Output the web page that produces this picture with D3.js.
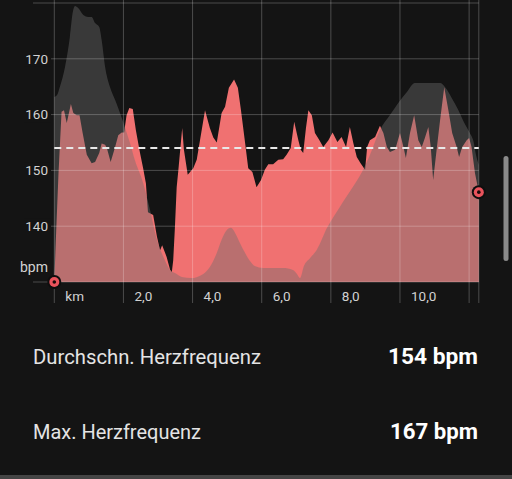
<!DOCTYPE html>
<html>
<head>
<meta charset="utf-8">
<script src="https://cdn.jsdelivr.net/npm/d3@7"></script>
<style>
  html, body { margin: 0; padding: 0; background: #141414; }
  svg { display: block; }
</style>
</head>
<body>
<svg id="chart" width="512" height="479"></svg>
<script>
// ---------------- DATA ----------------
// Heart rate profile (distance in km, heart rate in bpm)
const hrKm = [0.00,0.05,0.12,0.21,0.28,0.36,0.48,0.55,0.65,0.73,0.82,0.94,1.08,1.18,1.30,1.37,1.47,1.52,1.63,1.76,1.85,1.95,2.02,2.09,2.17,2.27,2.36,2.48,2.57,2.65,2.71,2.86,2.97,3.06,3.12,3.25,3.35,3.40,3.44,3.49,3.54,3.59,3.70,3.75,3.86,4.02,4.12,4.36,4.50,4.60,4.70,4.84,4.94,5.05,5.20,5.31,5.40,5.52,5.61,5.73,5.85,5.98,6.09,6.19,6.33,6.48,6.62,6.72,6.84,6.94,7.06,7.13,7.20,7.28,7.35,7.45,7.54,7.67,7.78,7.93,8.05,8.19,8.31,8.44,8.55,8.65,8.75,8.86,8.99,9.05,9.13,9.28,9.42,9.52,9.62,9.71,9.86,10.00,10.10,10.17,10.29,10.41,10.53,10.63,10.72,10.82,10.89,10.96,11.06,11.16,11.28,11.40,11.51,11.64,11.71,11.80,11.93,12.00,12.07,12.17,12.28];
const hrBpm = [130.0,138.4,149.2,160.5,160.8,158.5,161.9,160.3,159.9,159.9,156.7,152.8,151.3,151.5,153.1,154.8,154.6,154.0,151.5,154.2,156.3,156.8,156.8,159.9,161.2,161.0,157.2,153.1,150.4,147.7,142.5,142.0,138.1,135.7,136.6,134.5,132.2,131.8,133.9,139.9,147.0,150.1,157.6,153.7,149.2,150.4,151.9,160.8,157.6,155.9,155.0,160.3,161.4,164.8,166.3,164.8,160.8,154.9,150.4,149.7,147.0,148.3,150.1,151.1,151.1,151.9,152.0,152.8,154.0,158.7,155.4,153.7,153.1,157.6,160.8,159.9,156.7,155.4,154.2,155.4,156.8,155.1,156.0,154.2,157.8,154.9,152.4,151.3,150.1,154.2,155.4,156.0,158.0,156.7,154.2,153.3,153.7,156.7,154.2,152.2,156.7,159.9,155.4,154.2,155.8,157.8,154.2,148.3,153.7,159.0,164.9,160.8,156.7,154.2,152.4,154.2,155.4,155.8,154.2,149.5,146.1];

// Elevation profile (distance in km, relative elevation 0..100)
const elevKm = [0.00,0.08,0.16,0.31,0.45,0.53,0.60,0.69,0.84,0.98,1.08,1.18,1.30,1.37,1.47,1.61,1.76,1.90,2.04,2.19,2.33,2.57,2.77,2.97,3.17,3.35,3.49,3.69,3.97,4.26,4.50,4.70,4.84,4.99,5.11,5.23,5.37,5.52,5.66,5.80,6.04,6.24,6.62,6.90,7.02,7.11,7.22,7.40,7.59,7.89,8.26,8.64,8.90,9.13,9.42,9.71,9.95,10.20,10.43,11.16,11.30,11.50,11.69,11.85,12.02,12.13,12.20,12.28];
const elevVal = [66.3,67.0,69.9,77.1,87.8,96.4,98.9,98.2,95.7,95.0,95.0,92.8,91.4,86.7,77.1,69.9,65.2,60.6,55.6,49.8,43.7,35.5,25.8,15.1,8.6,4.3,3.2,1.8,1.4,2.5,5.4,10.4,15.1,18.6,19.4,17.6,14.0,10.4,7.5,5.7,5.0,5.0,5.0,4.3,2.9,1.4,5.7,8.6,11.5,19.4,26.9,34.1,39.4,45.5,54.5,59.9,64.2,68.1,71.3,71.3,69.9,65.9,61.6,57.3,53.4,50.2,45.5,41.9];

const totalKm = 12.28;
const avgBpm = 154;
const maxBpm = 167;

const yGrid = [130, 140, 150, 160, 170, 180];
const yTickValues = [140, 150, 160, 170];
const yTickLabels = ["140", "150", "160", "170"];
const yUnitLabel = "bpm";

const xTickValues = [0, 2, 4, 6, 8, 10, 12];
const xTickLabels = ["km", "2,0", "4,0", "6,0", "8,0", "10,0", ""];

const statLabels = ["Durchschn. Herzfrequenz", "Max. Herzfrequenz"];
const statValues = [avgBpm + " bpm", maxBpm + " bpm"];

// ---------------- DRAW ----------------
const svg = d3.select("#chart");
const W = 512, H = 479;
const FONT = "Roboto, Inter, 'Noto Sans', sans-serif";
const C = {
  bg: "#141414",
  hr: "#f07171",
  elev: "rgb(110,110,110)",
  grid: "rgba(255,255,255,0.24)",
  text: "#d2d2d2",
  marker: "#e9535c"
};

svg.append("rect").attr("width", W).attr("height", H).attr("fill", C.bg);

const x = d3.scaleLinear().domain([0, totalKm]).range([54.3, 478.8]);
const y = d3.scaleLinear().domain([130, 180]).range([282, 3]);
const yElev = d3.scaleLinear().domain([0, 100]).range([282, 3]);

const hrData = hrKm.map((k, i) => ({ km: k, v: hrBpm[i] }));
const elevData = elevKm.map((k, i) => ({ km: k, v: elevVal[i] }));

// Heart-rate area
svg.append("path")
  .datum(hrData)
  .attr("fill", C.hr)
  .attr("d", d3.area().x(d => x(d.km)).y0(y(130)).y1(d => y(d.v)).curve(d3.curveLinear));

// Elevation area (translucent, on top)
svg.append("path")
  .datum(elevData)
  .attr("fill", C.elev)
  .attr("fill-opacity", 0.42)
  .attr("d", d3.area().x(d => x(d.km)).y0(yElev(0)).y1(d => yElev(d.v)).curve(d3.curveMonotoneX));

// Horizontal grid
const gGrid = svg.append("g");
gGrid.selectAll("line.h").data(yGrid).join("line")
  .attr("x1", 33).attr("x2", x(totalKm))
  .attr("y1", d => y(d)).attr("y2", d => y(d))
  .attr("stroke", C.grid).attr("stroke-width", 1);

// Vertical grid
gGrid.selectAll("line.v").data(xTickValues.concat([totalKm])).join("line")
  .attr("x1", d => x(d)).attr("x2", d => x(d))
  .attr("y1", 0).attr("y2", 303)
  .attr("stroke", C.grid).attr("stroke-width", 1);

// Y tick labels with background
const yl = svg.append("g");
yTickValues.forEach((v, i) => {
  yl.append("rect").attr("x", 24).attr("y", y(v) - 8).attr("width", 27).attr("height", 16).attr("fill", C.bg);
  yl.append("text")
    .attr("x", 48).attr("y", y(v)).attr("dy", "0.35em")
    .attr("text-anchor", "end")
    .attr("font-family", FONT)
    .attr("font-size", 13.5).attr("fill", C.text)
    .text(yTickLabels[i]);
});
yl.append("text")
  .attr("x", 48).attr("y", y(130) - 10)
  .attr("text-anchor", "end")
  .attr("font-family", FONT)
  .attr("font-size", 14).attr("fill", C.text)
  .text(yUnitLabel);

// X tick labels
svg.append("g").selectAll("text").data(xTickValues).join("text")
  .attr("x", d => x(d) + 11).attr("y", 301)
  .attr("font-family", FONT)
  .attr("font-size", 13.5).attr("fill", C.text)
  .text((d, i) => xTickLabels[i]);

// Average dashed line
svg.append("line")
  .attr("x1", x(0)).attr("x2", x(totalKm))
  .attr("y1", y(avgBpm)).attr("y2", y(avgBpm))
  .attr("stroke", "#e8e8e8").attr("stroke-width", 2)
  .attr("stroke-dasharray", "7,5");

// Start / end markers
function marker(km, bpm) {
  const cx = x(km), cy = y(bpm);
  svg.append("circle").attr("cx", cx).attr("cy", cy).attr("r", 7).attr("fill", "#0e0e0e");
  svg.append("circle").attr("cx", cx).attr("cy", cy).attr("r", 5).attr("fill", C.marker);
  svg.append("circle").attr("cx", cx).attr("cy", cy).attr("r", 1.8).attr("fill", "#1a0a0a");
}
marker(hrKm[0], hrBpm[0]);
marker(hrKm[hrKm.length - 1], hrBpm[hrBpm.length - 1]);

// Scrollbar
svg.append("rect").attr("x", 503.5).attr("y", 156).attr("width", 5).attr("height", 105)
  .attr("rx", 2.5).attr("fill", "#8a8a8a");

// Stats
function fit(sel, target) {
  const w = sel.node().getComputedTextLength();
  const fs = parseFloat(sel.attr("font-size"));
  if (w > 0) sel.attr("font-size", (fs * target / w).toFixed(2));
}
const statY = [364, 438.5];
const labelW = [228, 168];
const valueW = [90, 88];
statLabels.forEach((s, i) => {
  const t = svg.append("text")
    .attr("x", 33).attr("y", statY[i])
    .attr("font-family", FONT)
    .attr("font-size", 20).attr("fill", "#e4e4e4")
    .text(s);
  fit(t, labelW[i]);
  const v = svg.append("text")
    .attr("x", 478).attr("y", statY[i])
    .attr("text-anchor", "end")
    .attr("font-family", FONT)
    .attr("font-weight", 700)
    .attr("font-size", 21).attr("fill", "#ffffff")
    .text(statValues[i]);
  fit(v, valueW[i]);
});

// Bottom strip
svg.append("rect").attr("x", 0).attr("y", 475).attr("width", W).attr("height", 4).attr("fill", "#454545");
</script>
</body>
</html>
